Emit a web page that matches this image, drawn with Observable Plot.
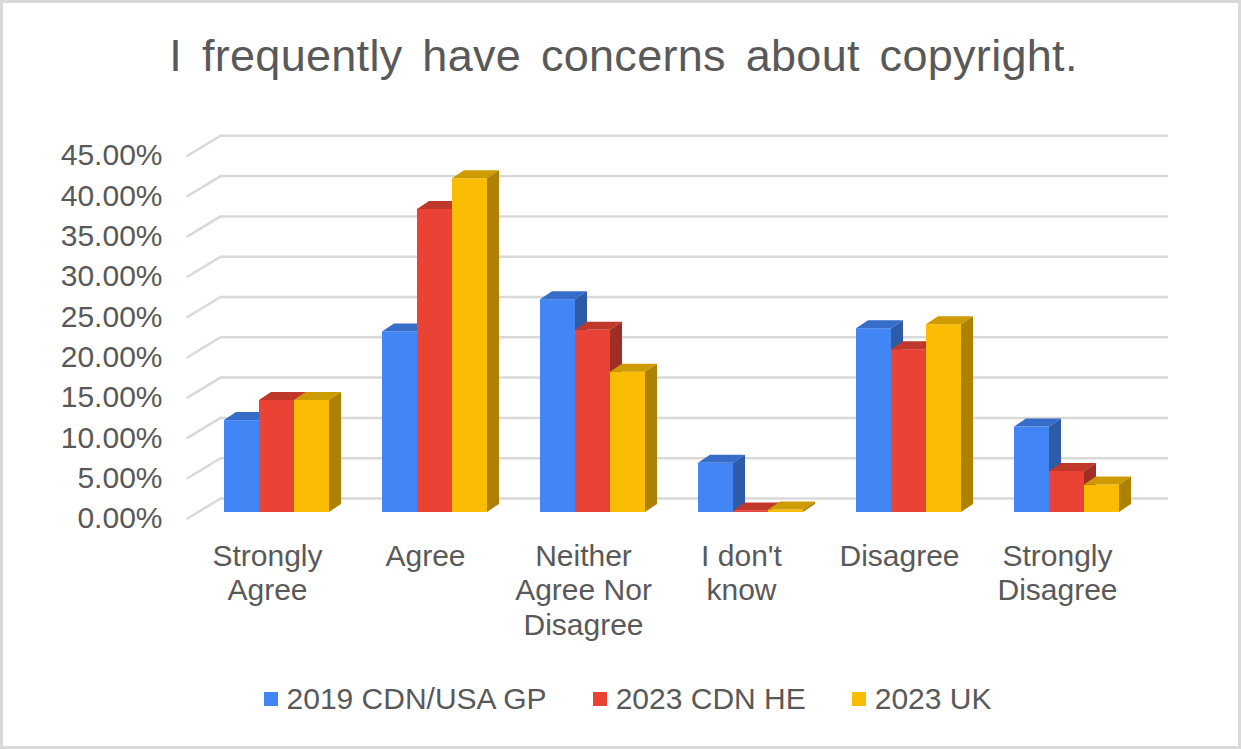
<!DOCTYPE html>
<html>
<head>
<meta charset="utf-8">
<script src="https://cdn.jsdelivr.net/npm/d3@7"></script>
<script src="https://cdn.jsdelivr.net/npm/@observablehq/plot@0.6"></script>
<style>
  html, body { margin: 0; padding: 0; background: #ffffff; }
  body { width: 1241px; height: 749px; position: relative; overflow: hidden;
         font-family: "Liberation Sans", Arial, sans-serif; color: #595959; }
  #frame { position: absolute; left: 0; top: 0; width: 1241px; height: 749px;
           box-sizing: border-box; border: 3px solid #d9d9d9; }
  #title { position: absolute; left: 0; width: 1241px; top: 33px; text-align: center;
           font-size: 45px; line-height: 1; word-spacing: 7px; letter-spacing: 0.3px; padding-left: 3px;
           white-space: nowrap; }
  #chart { position: absolute; left: 0; top: 100px; }
  #legend { position: absolute; left: 0; width: 1241px; top: 684px; display: flex;
            justify-content: center; gap: 46px; font-size: 30px; line-height: 30px;
            padding-left: 14px; box-sizing: border-box; }
  #legend .item { display: flex; align-items: center; white-space: nowrap; }
  #legend .sw { width: 14px; height: 14px; margin-right: 9px; display: inline-block; }
</style>
</head>
<body>
<div id="frame"></div>
<div id="title"></div>
<div id="chart"></div>
<div id="legend"></div>
<script>
// ---- data ----
const titleText = "I frequently have concerns about copyright.";
const categories = ["Strongly Agree", "Agree", "Neither Agree Nor Disagree", "I don't know", "Disagree", "Strongly Disagree"];
const categoryLabels = ["Strongly\nAgree", "Agree", "Neither\nAgree Nor\nDisagree", "I don't\nknow", "Disagree", "Strongly\nDisagree"];
const series = ["2019 CDN/USA GP", "2023 CDN HE", "2023 UK"];
const colors = ["#4285F4", "#EA4335", "#FBBC04"];
const values2019 = [0.114, 0.224, 0.264, 0.061, 0.228, 0.106];
const values2023HE = [0.139, 0.376, 0.226, 0.002, 0.202, 0.051];
const values2023UK = [0.139, 0.414, 0.174, 0.003, 0.233, 0.034];
const yTicks = [0, 0.05, 0.10, 0.15, 0.20, 0.25, 0.30, 0.35, 0.40, 0.45];

// ---- table ----
const seriesValues = [values2019, values2023HE, values2023UK];
const data = [];
categories.forEach((c, i) => {
  series.forEach((s, j) => data.push({category: c, series: s, value: seriesValues[j][i]}));
});
const labelOf = new Map(categories.map((c, i) => [c, categoryLabels[i]]));
// wall edge lines drawn only at the left of the first category panel
const wallTicks = yTicks.map(t => ({category: categories[0], y: t}));

// ---- 3D extrusion of bars (depth to upper right) ----
const D = 12, E = 8;
const svgns = "http://www.w3.org/2000/svg";
function extrude(index, scales, values, dimensions, context, next) {
  const g = next(index, scales, values, dimensions, context);
  for (const r of Array.from(g.querySelectorAll("rect"))) {
    const x = +r.getAttribute("x"), y = +r.getAttribute("y");
    const w = +r.getAttribute("width"), h = +r.getAttribute("height");
    const c = d3.color(r.getAttribute("fill") || "#888");
    const top = document.createElementNS(svgns, "polygon");
    top.setAttribute("points", `${x},${y} ${x + w},${y} ${x + w + D},${y - E} ${x + D},${y - E}`);
    top.setAttribute("fill", c.darker(0.55).formatHex());
    const side = document.createElementNS(svgns, "polygon");
    side.setAttribute("points", `${x + w},${y} ${x + w + D},${y - E} ${x + w + D},${y + h - E} ${x + w},${y + h}`);
    side.setAttribute("fill", c.darker(1.05).formatHex());
    r.after(top, side);
  }
  return g;
}

const lineShape = { draw(ctx, l) { ctx.moveTo(0, 0); ctx.lineTo(0, -l); } };

const chart = Plot.plot({
  width: 1241,
  height: 560,
  marginLeft: 197,
  marginRight: 96,
  marginTop: 49.3,
  marginBottom: 148,
  style: { fontFamily: "'Liberation Sans', Arial, sans-serif", color: "#595959", background: "transparent", overflow: "visible" },
  fx: { domain: categories, padding: 0 },
  x: { domain: series, paddingInner: 0, paddingOuter: 0.757, axis: null },
  y: { domain: [0, 0.45] },
  color: { domain: series, range: colors },
  marks: [
    Plot.ruleY(yTicks, { y: d => d, stroke: "#d9d9d9", strokeWidth: 2.5, dx: 23, dy: -14 }),
    Plot.vector(wallTicks, { fx: "category", y: "y", frameAnchor: "left", anchor: "start",
      length: 38.6, rotate: 58.8, dx: -10, dy: 6, shape: lineShape, stroke: "#d9d9d9", strokeWidth: 2.5 }),
    Plot.barY(data, { fx: "category", x: "series", y: "value", fill: "series", render: extrude }),
    Plot.axisY({ ticks: yTicks, tickFormat: d3.format(".2%"), tickSize: 0, tickPadding: 35, dy: 6, fontSize: 30 }),
    Plot.axisFx({ anchor: "bottom", tickSize: 0, tickPadding: 29, dx: -9, fontSize: 30, lineHeight: 1.15, lineAnchor: "top",
      tickFormat: d => labelOf.get(d), label: null })
  ]
});
document.getElementById("chart").appendChild(chart);

document.getElementById("title").textContent = titleText;
const legend = document.getElementById("legend");
series.forEach((s, i) => {
  const item = document.createElement("div");
  item.className = "item";
  const sw = document.createElement("span");
  sw.className = "sw";
  sw.style.background = colors[i];
  item.appendChild(sw);
  item.appendChild(document.createTextNode(s));
  legend.appendChild(item);
});
</script>
</body>
</html>
